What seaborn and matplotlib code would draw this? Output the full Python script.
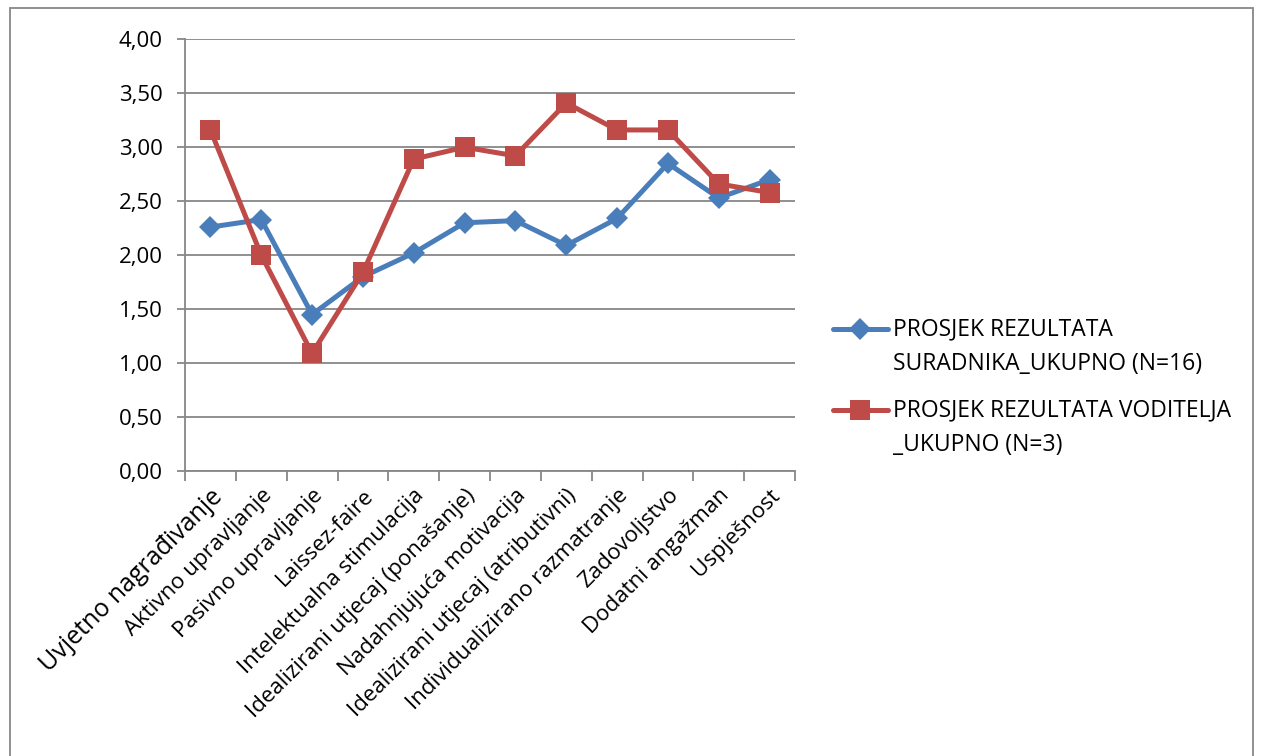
import numpy as np
import pandas as pd
import matplotlib
matplotlib.use("Agg")
import matplotlib.pyplot as plt
import seaborn as sns
from matplotlib.lines import Line2D
from matplotlib.patches import Rectangle
from matplotlib.ticker import FuncFormatter

# ---- 데이터 ----
categories = [
    "Uvjetno nagrađivanje", "Aktivno upravljanje", "Pasivno upravljanje",
    "Laissez-faire", "Intelektualna stimulacija", "Idealizirani utjecaj (ponašanje)",
    "Nadahnjujuća motivacija", "Idealizirani utjecaj (atributivni)",
    "Individualizirano razmatranje", "Zadovoljstvo", "Dodatni angažman", "Uspješnost",
]
suradnici = [2.26, 2.33, 1.45, 1.80, 2.02, 2.30, 2.32, 2.09, 2.34, 2.85, 2.53, 2.70]
voditelji = [3.16, 2.00, 1.09, 1.84, 2.89, 3.00, 2.92, 3.41, 3.16, 3.16, 2.66, 2.58]
label_sur = "PROSJEK REZULTATA\nSURADNIKA_UKUPNO (N=16)"
label_vod = "PROSJEK REZULTATA VODITELJA\n_UKUPNO (N=3)"

BLUE = "#4A7EBB"
RED = "#BE4B48"
GRID = "#878787"

sns.set_theme(style="white", rc={"axes.grid": False})
plt.rcParams["font.family"] = ["Open Sans", "DejaVu Sans"]

fig = plt.figure(figsize=(12.62, 7.56), dpi=100)
ax = fig.add_axes([185 / 1262, 1 - 471 / 756, (795 - 185) / 1262, (471 - 39.3) / 756])

sns.lineplot(x=categories, y=suradnici, sort=False, ax=ax, color=BLUE,
             linewidth=3.6, marker="D", markersize=11, markeredgewidth=0, zorder=3)
sns.lineplot(x=categories, y=voditelji, sort=False, ax=ax, color=RED,
             linewidth=3.6, marker="s", markersize=14, markeredgewidth=0, zorder=4)

ax.set_xlim(-0.5, len(categories) - 0.5)
ax.set_ylim(0, 4)
ax.set_yticks(np.arange(0, 4.01, 0.5))
ax.yaxis.set_major_formatter(FuncFormatter(lambda v, p: f"{v:.2f}".replace(".", ",")))
ax.grid(axis="y", color=GRID, linewidth=1.3)
ax.set_axisbelow(True)
for s in ["top", "right"]:
    ax.spines[s].set_visible(False)
for s in ["left", "bottom"]:
    ax.spines[s].set_color(GRID)
    ax.spines[s].set_linewidth(1.3)

# kategorije: oznake na granicama, tekst na sredini
ax.set_xticks(np.arange(len(categories)))
ax.set_xticklabels(categories, rotation=45, ha="right", rotation_mode="anchor",
                   fontsize=16, color="black")
ax.xaxis.get_ticklabels()[0].set_fontsize(18)
ax.tick_params(axis="x", length=0, pad=10)
ax.set_xticks(np.arange(-0.5, len(categories), 1), minor=True)
ax.tick_params(axis="x", which="minor", bottom=True, length=7, color=GRID, width=1.3)
ax.tick_params(axis="y", left=True, length=6, color=GRID, width=1.3, labelsize=16,
               pad=10, labelcolor="black")
ax.set_xlabel("")
ax.set_ylabel("")

# legenda
for y0, col, mk, ms, lab in [(329, BLUE, "D", 11, label_sur), (410, RED, "s", 14, label_vod)]:
    yf = 1 - y0 / 756
    fig.add_artist(Line2D([833 / 1262, 860 / 1262, 888 / 1262], [yf, yf, yf], color=col,
                          linewidth=3.6, marker=mk, markersize=ms, markeredgewidth=0,
                          markevery=[1], transform=fig.transFigure))
    fig.text(893 / 1262, yf + 12 / 756, lab, fontsize=16.5, va="top", ha="left",
             linespacing=1.62, color="black")

# okvir
fig.add_artist(Rectangle((10 / 1262, -0.01), (1253 - 10) / 1262, 1 - 8 / 756 + 0.01,
                         transform=fig.transFigure, fill=False, edgecolor=GRID, linewidth=1.3))

fig.savefig("out.png", dpi=100)
